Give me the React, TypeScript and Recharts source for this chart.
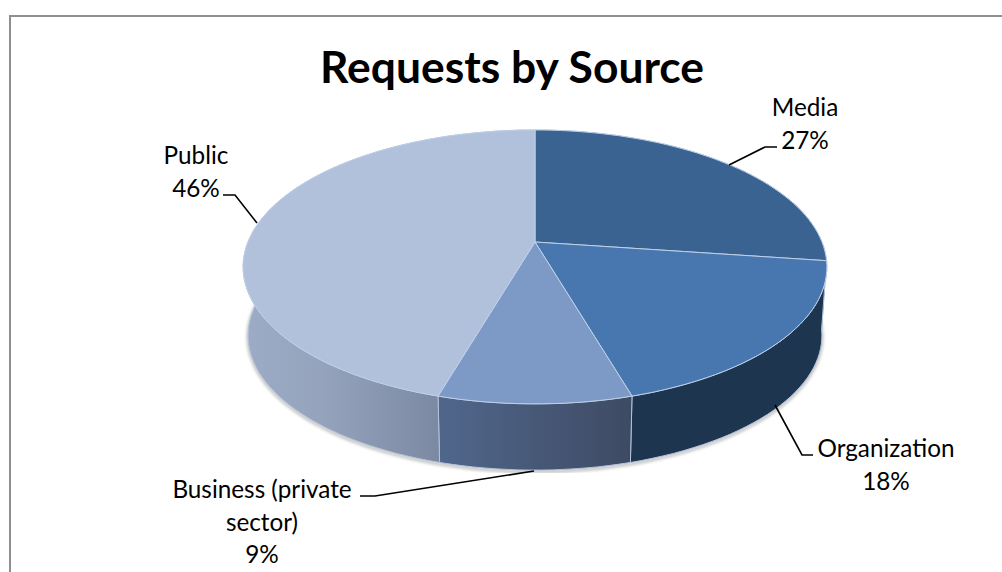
import React from "react";
import { PieChart, Pie } from "recharts";

const categories = ["Media", "Organization", "Business (private sector)", "Public"];
const shares = [27.2, 18.3, 9, 45.5];

const topColors = ["#3b6391", "#4877b0", "#7d99c5", "#b1c1dc"];
const wallColors = ["#1e3550", "#1e3550", "url(#wallBusiness)", "url(#wallPublic)"];

// label text lines and leader lines, in page pixels
const labelLines = [["Media"], ["Organization"], ["Business (private", "sector)"], ["Public"]];
const labelAt = [
  { x: 805, y: 116 },
  { x: 886, y: 457 },
  { x: 262, y: 498 },
  { x: 196, y: 164 },
];
const leaders = [
  "729,165 765,147 777,147",
  "775,405 802,455 813,455",
  "534,471 375,496 360,496",
  "257,223 235,195 223,195",
];

const data = categories.map((name, i) => ({ name, value: shares[i] }));

const CX = 535;
const CY = 242;
const RX = 287;
const RY = 132.4;
const TILT = 0.182;
const DEPTH = 69;
const SHRINK = 0.983;

// pie angle -> point on the tilted disc (level 0 is the top face, 1 the bottom one)
function project(angle: number, level: number) {
  const t = ((90 - angle) * Math.PI) / 180;
  const X = Math.sin(t);
  const Y = -Math.cos(t);
  const w = 1 - TILT * Y;
  const s = level ? SHRINK : 1;
  return [CX + (s * RX * X) / w, CY + (level ? DEPTH : 0) + (s * RY * Y) / w];
}

function arc(from: number, to: number, level: number) {
  const pts = [];
  const steps = Math.max(2, Math.ceil(Math.abs(from - to) / 2));
  for (let i = 0; i <= steps; i++) {
    pts.push(project(from + ((to - from) * i) / steps, level));
  }
  return pts;
}

const toPath = (pts: number[][]) =>
  "M" + pts.map((p) => p[0].toFixed(1) + " " + p[1].toFixed(1)).join("L") + "Z";

function TopFace(props: any) {
  const i = categories.indexOf(props.name);
  const d = toPath([[CX, CY], ...arc(props.startAngle, props.endAngle, 0)]);
  return <path d={d} fill={topColors[i]} stroke="#bdd0e8" strokeWidth={1} strokeLinejoin="round" />;
}

function Wall(props: any) {
  const i = categories.indexOf(props.name);
  const top = arc(props.startAngle, props.endAngle, 0);
  const bottom = arc(props.endAngle, props.startAngle, 1);
  const d = toPath([...top, ...bottom]);
  const rim = "M" + bottom.map((p) => p[0].toFixed(1) + " " + (p[1] + 1.5).toFixed(1)).join("L");
  return (
    <g>
      <path d={rim} fill="none" stroke="#8a8a8a" strokeWidth={3} opacity={0.55} filter="url(#soft)" />
      <path d={d} fill={wallColors[i]} stroke="#b4c3d9" strokeWidth={1} />
    </g>
  );
}

function SliceLabel(props: any) {
  const i = categories.indexOf(props.name);
  const at = labelAt[i];
  const lines = [...labelLines[i], Math.round(shares[i]) + "%"];
  return (
    <g>
      <polyline points={leaders[i]} fill="none" stroke="#000" strokeWidth={1.6} />
      <text textAnchor="middle" fontFamily="Lato" fontSize={24.3} fill="#000">
        {lines.map((line, k) => (
          <tspan key={k} x={at.x} y={at.y + k * 32.5}>
            {line}
          </tspan>
        ))}
      </text>
    </g>
  );
}

export default function App() {
  return (
    <div style={{ position: "absolute", left: 0, top: 0, width: 1002, height: 572, overflow: "hidden", background: "#fff" }}>
      <div style={{ position: "absolute", left: 9, top: 15, width: 1100, height: 700, borderLeft: "2px solid #8f8f8f", borderTop: "2px solid #8f8f8f" }} />
      <div style={{ position: "absolute", left: 0, top: 0 }}>
        <PieChart width={1002} height={572} margin={{ top: 0, right: 0, bottom: 0, left: 0 }}>
          <defs>
            <linearGradient id="wallPublic" gradientUnits="userSpaceOnUse" x1={243} y1={0} x2={438} y2={0}>
              <stop offset="0" stopColor="#9dacc6" />
              <stop offset="0.4" stopColor="#95a3bd" />
              <stop offset="1" stopColor="#7c89a2" />
            </linearGradient>
            <linearGradient id="wallBusiness" gradientUnits="userSpaceOnUse" x1={438} y1={0} x2={633} y2={0}>
              <stop offset="0" stopColor="#50678c" />
              <stop offset="1" stopColor="#3e4a63" />
            </linearGradient>
            <filter id="soft" x="-10%" y="-10%" width="120%" height="120%">
              <feGaussianBlur stdDeviation="1.5" />
            </filter>
          </defs>
          <text x={512} y={83} textAnchor="middle" fontFamily="Lato" fontWeight={700} fontSize={44.4} fill="#000">
            Requests by Source
          </text>
          <Pie
            data={data}
            dataKey="value"
            nameKey="name"
            cx={CX}
            cy={CY}
            outerRadius={RX}
            startAngle={90}
            endAngle={-270}
            stroke="none"
            shape={Wall}
            isAnimationActive={false}
          />
          <Pie
            data={data}
            dataKey="value"
            nameKey="name"
            cx={CX}
            cy={CY}
            outerRadius={RX}
            startAngle={90}
            endAngle={-270}
            shape={TopFace}
            label={SliceLabel}
            labelLine={false}
            isAnimationActive={false}
          />
        </PieChart>
      </div>
    </div>
  );
}
